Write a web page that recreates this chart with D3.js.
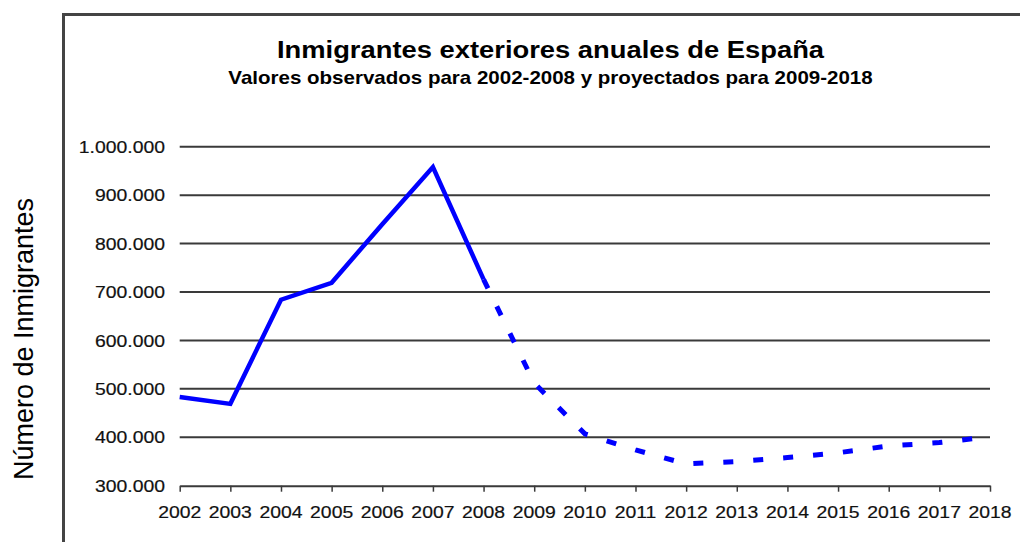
<!DOCTYPE html>
<html>
<head>
<meta charset="utf-8">
<script src="https://cdn.jsdelivr.net/npm/d3@7/dist/d3.min.js"></script>
<style>
  html, body { margin: 0; padding: 0; background: #fff; }
  svg { display: block; font-family: "Liberation Sans", Arial, sans-serif; }
</style>
</head>
<body>
<svg id="chart" width="1020" height="542"></svg>
<script>
// Annual foreign immigrants to Spain: observed 2002-2008, projected 2009-2018
const years = [2002, 2003, 2004, 2005, 2006, 2007, 2008, 2009, 2010,
               2011, 2012, 2013, 2014, 2015, 2016, 2017, 2018];
const observedYears = [2002, 2003, 2004, 2005, 2006, 2007, 2008];
const observedValues = [483000, 469000, 684000, 719000, 840000, 958000, 726000];
const projectedYears = [2008, 2009, 2010, 2011, 2012, 2013, 2014, 2015, 2016, 2017, 2018];
const projectedValues = [726000, 512000, 407000, 374000, 345000, 350000, 358000, 368000, 382000, 389000, 401000];
const yTicks = [300000, 400000, 500000, 600000, 700000, 800000, 900000, 1000000];

const titleText = "Inmigrantes exteriores anuales de España";
const subtitleText = "Valores observados para 2002-2008 y proyectados para 2009-2018";
const yAxisTitle = "Número de Inmigrantes";

const svg = d3.select("#chart");
const stretch = 1.14; // glyphs are drawn slightly wide

const x = d3.scaleLinear().domain([2002, 2018]).range([179.7, 990]);
const y = d3.scaleLinear().domain([300000, 1000000]).range([485.7, 146.7]);

const es = d3.formatLocale({ decimal: ",", thousands: ".", grouping: [3], currency: ["", " €"] });
const fmt = es.format(",d");

// outer frame (runs off the right and bottom edges)
svg.append("rect")
  .attr("x", 63.5).attr("y", 14.5)
  .attr("width", 1100).attr("height", 700)
  .attr("fill", "none").attr("stroke", "#444").attr("stroke-width", 3);

// titles
function wideText(sel, tx, ty, txt, size, weight, anchor) {
  sel.append("text")
    .attr("transform", `translate(${tx},${ty}) scale(${stretch},1)`)
    .attr("text-anchor", anchor)
    .attr("font-size", size)
    .attr("font-weight", weight)
    .attr("fill", "#000")
    .text(txt);
}
wideText(svg, 550.5, 58, titleText, 24, "bold", "middle");
wideText(svg, 550.5, 84, subtitleText, 18, "bold", "middle");

// y axis title
svg.append("text")
  .attr("transform", "translate(33,339) rotate(-90)")
  .attr("text-anchor", "middle")
  .attr("font-size", 27)
  .attr("fill", "#000")
  .text(yAxisTitle);

// horizontal gridlines
svg.append("g")
  .selectAll("line")
  .data(yTicks.filter(d => d > 300000))
  .join("line")
  .attr("x1", x(2002)).attr("x2", x(2018))
  .attr("y1", d => y(d)).attr("y2", d => y(d))
  .attr("stroke", "#3a3a3a").attr("stroke-width", 2);

// y tick labels
const yl = svg.append("g");
yTicks.forEach(v => {
  yl.append("text")
    .attr("transform", `translate(165,${y(v)}) scale(${stretch},1)`)
    .attr("text-anchor", "end")
    .attr("dy", "0.36em")
    .attr("font-size", 17)
    .attr("stroke", "#111").attr("stroke-width", 0.2)
    .attr("fill", "#111")
    .text(fmt(v));
});

// x axis with tick marks
const xAxis = d3.axisBottom(x)
  .tickValues(years)
  .tickSize(6)
  .tickSizeOuter(0)
  .tickFormat("");
const gx = svg.append("g")
  .attr("transform", `translate(0,${y(300000)})`)
  .call(xAxis);
gx.select(".domain").attr("stroke", "#3a3a3a").attr("stroke-width", 2);
gx.selectAll(".tick line").attr("stroke", "#3a3a3a").attr("stroke-width", 1.5);

// year labels
const xl = svg.append("g");
years.forEach(yr => {
  xl.append("text")
    .attr("transform", `translate(${x(yr)},517.5) scale(${stretch},1)`)
    .attr("text-anchor", "middle")
    .attr("font-size", 17)
    .attr("stroke", "#111").attr("stroke-width", 0.2)
    .attr("fill", "#111")
    .text(yr);
});

// lines
const line = d3.line().x(d => x(d[0])).y(d => y(d[1]));
const obs = observedYears.map((yr, i) => [yr, observedValues[i]]);
const proj = projectedYears.map((yr, i) => [yr, projectedValues[i]]);

svg.append("path")
  .datum(proj)
  .attr("d", line)
  .attr("fill", "none")
  .attr("stroke", "#0000ff")
  .attr("stroke-width", 5)
  .attr("stroke-dasharray", "10,20");

svg.append("path")
  .datum(obs)
  .attr("d", line)
  .attr("fill", "none")
  .attr("stroke", "#0000ff")
  .attr("stroke-width", 4.5)
  .attr("stroke-linejoin", "miter");
</script>
</body>
</html>
